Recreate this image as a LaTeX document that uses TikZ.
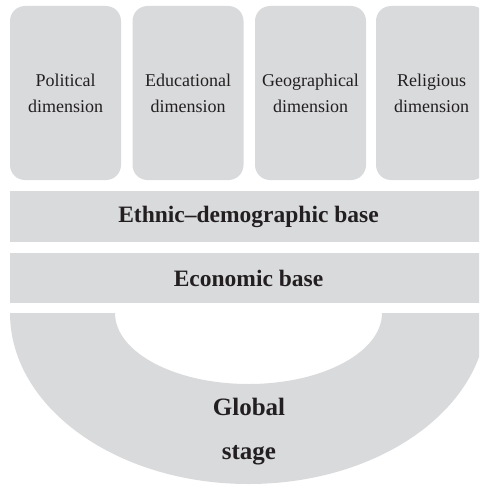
\documentclass[tikz,border=0pt]{standalone}
\usepackage{fontspec}
\setmainfont{Liberation Serif}
\usepackage{tikz}
\definecolor{panel}{RGB}{217,218,220}
\definecolor{ink}{RGB}{35,31,32}

\begin{document}
\begin{tikzpicture}
    [
      x=1pt,
      y=-1pt,
      dim/.style={rectangle,rounded corners=15pt,fill=panel,minimum width=111pt,minimum height=174pt,
        align=center,text=ink,font=\fontsize{18}{26}\selectfont},
      bar/.style={rectangle,fill=panel,minimum width=477pt,text=ink,font=\fontsize{23.5}{28}\selectfont\bfseries},
      stagetext/.style={align=center,text=ink,font=\fontsize{25}{44}\selectfont\bfseries},
    ]
    \useasboundingbox (0,0) rectangle (479,487);
    \clip (0,0) rectangle (479,487);

    \node at (65.5, 93)  [dim] (pol) {Political\\dimension};
    \node at (188, 93)   [dim] (edu) {Educational\\dimension};
    \node at (310.5, 93) [dim] (geo) {Geographical\\dimension};
    \node at (431.5, 93) [dim] (rel) {Religious\\dimension};

    \node at (248.5, 216.5) [bar, minimum height=51pt] (ethnic) {Ethnic--demographic base};
    \node at (248.5, 278)   [bar, minimum height=50pt] (econ) {Economic base};

    \fill [panel] (10,313) arc [start angle=180, end angle=0, x radius=238.5, y radius=171]
      -- (382,313) arc [start angle=0, end angle=180, x radius=133.5, y radius=71] -- cycle;
    \node at (249, 432) [stagetext] (stage) {Global\\stage};
\end{tikzpicture}
\end{document}
